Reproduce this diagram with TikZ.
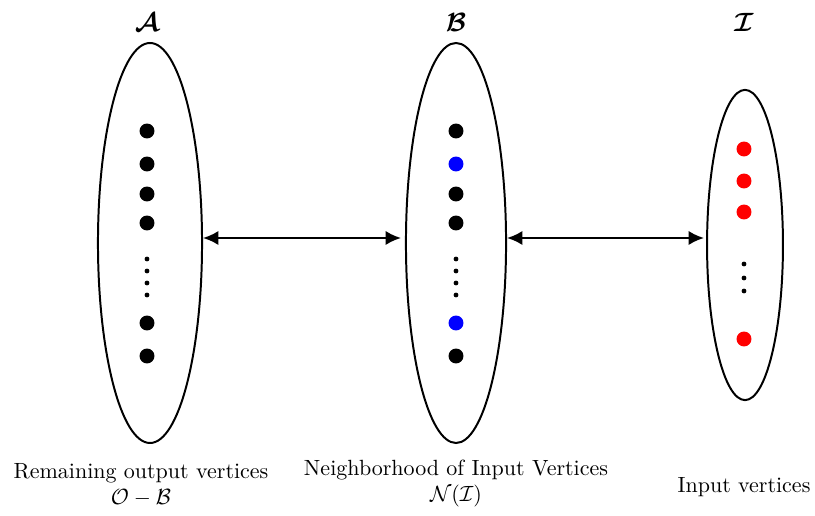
\documentclass[tikz,border=0pt]{standalone}
\usepackage{amsmath,bm}
\usetikzlibrary{shapes.geometric,arrows.meta}
\begin{document}
\begin{tikzpicture}[x=0.4545pt,y=-0.4545pt,
  setell/.style={draw,ellipse,line width=0.9pt,inner sep=0pt},
  bigdot/.style={circle,fill=#1,inner sep=0pt,minimum size=6.8pt},
  bigdot/.default=black,
  smalldot/.style={circle,fill=black,inner sep=0pt,minimum size=2.2pt},
  link/.style={line width=1pt,{Latex[length=7pt,width=6.5pt]}-{Latex[length=7pt,width=6.5pt]}},
  lbl/.style={align=center,inner sep=0pt,font=\normalsize},
  ttl/.style={inner sep=0pt,font=\large}]
\useasboundingbox (0,0) rectangle (815,516);
% sets
\node[setell,minimum width=47.3pt,minimum height=181.8pt] (A) at (150,243) {};
\node[setell,minimum width=45.5pt,minimum height=181.8pt] (B) at (456,243) {};
\node[setell,minimum width=34.5pt,minimum height=141pt] (I) at (745,245) {};
% titles
\node[ttl] (tA) at (147,22) {$\bm{\mathcal{A}}$};
\node[ttl] (tB) at (456,22) {$\bm{\mathcal{B}}$};
\node[ttl] (tI) at (744,22) {$\bm{\mathcal{I}}$};
% A dots
\foreach \y [count=\i] in {131,164,194,223,323,356}
  \node[bigdot] (a\i) at (147,\y) {};
\foreach \y [count=\i] in {259,271,283,295}
  \node[smalldot] (as\i) at (147,\y) {};
% B dots
\node[bigdot] (b1) at (456,131) {};
\node[bigdot=blue] (b2) at (456,164) {};
\node[bigdot] (b3) at (456,194) {};
\node[bigdot] (b4) at (456,223) {};
\node[bigdot=blue] (b5) at (456,323) {};
\node[bigdot] (b6) at (456,356) {};
\foreach \y [count=\i] in {259,271,283,295}
  \node[smalldot] (bs\i) at (456,\y) {};
% I dots
\foreach \y [count=\i] in {149,181,212,339}
  \node[bigdot=red] (r\i) at (744,\y) {};
\foreach \y [count=\i] in {264,278,291}
  \node[smalldot] (is\i) at (744,\y) {};
% connectors
\coordinate (A1) at (203,238);
\coordinate (B1) at (401,238);
\coordinate (B2) at (507,238);
\coordinate (I1) at (704,238);
\draw[link] (A1) -- (B1);
\draw[link] (B2) -- (I1);
% labels
\node[lbl] (lA) at (141,473) {Remaining output vertices};
\node[lbl] (lA2) at (141,498) {$\mathcal{O}-\mathcal{B}$};
\node[lbl] (lB) at (456,470) {Neighborhood of Input Vertices};
\node[lbl] (lB2) at (456,496) {$\mathcal{N}(\mathcal{I})$};
\node[lbl] (lI) at (744,487) {Input vertices};
\end{tikzpicture}
\end{document}
